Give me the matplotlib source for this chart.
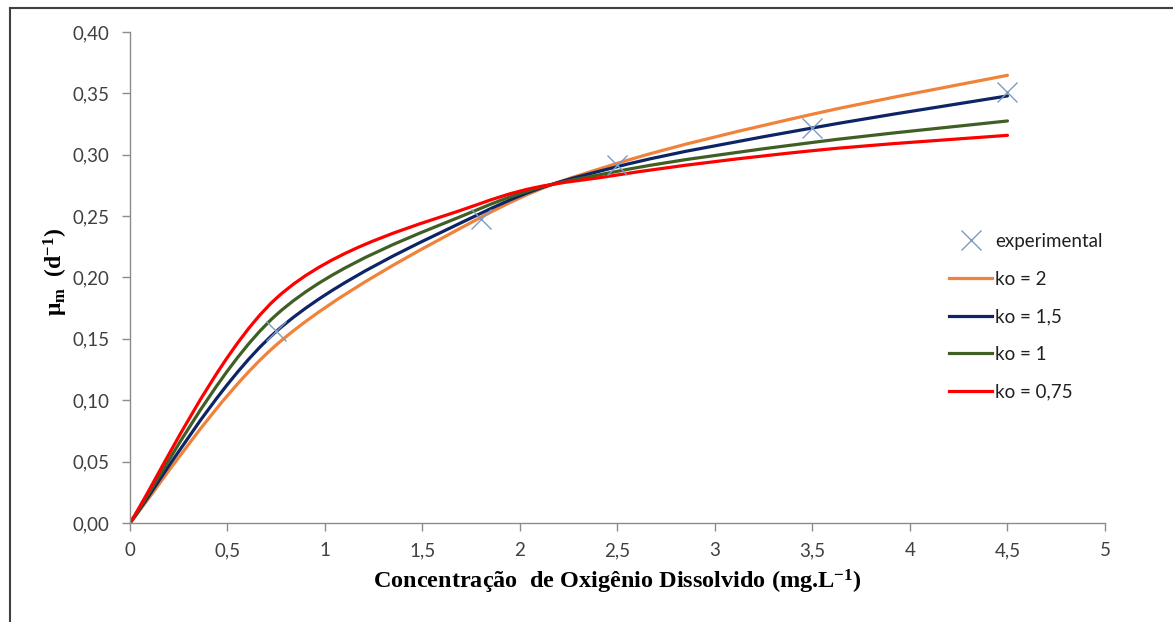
import matplotlib
matplotlib.use("Agg")
import matplotlib.pyplot as plt
from matplotlib.lines import Line2D
from matplotlib.path import Path
from matplotlib.patches import PathPatch

# values (model computed at the experimental points)
conc = [0, 0.75, 1.8, 2.5, 3.5, 4.5]
ko_2 = [0, 0.145, 0.249, 0.293, 0.333, 0.3647]
ko_15 = [0, 0.156, 0.2523, 0.2903, 0.3218, 0.3479]
ko_1 = [0, 0.1695, 0.2564, 0.2865, 0.310, 0.3275]
ko_075 = [0, 0.183, 0.2604, 0.2835, 0.3033, 0.3158]

exp_x = [0.75, 1.8, 2.5, 3.5, 4.5]
exp_y = [0.156, 0.248, 0.2915, 0.3215, 0.3514]

xticks = [0, 0.5, 1, 1.5, 2, 2.5, 3, 3.5, 4, 4.5, 5]
xtick_labels = ["0", "0,5", "1", "1,5", "2", "2,5", "3", "3,5", "4", "4,5", "5"]
yticks = [0, 0.05, 0.10, 0.15, 0.20, 0.25, 0.30, 0.35, 0.40]
ytick_labels = ["0,00", "0,05", "0,10", "0,15", "0,20", "0,25", "0,30", "0,35", "0,40"]


def smooth_path(xs, ys):
    # excel style "smoothed line": bezier segments through the points
    pts = list(zip(xs, ys))
    n = len(pts)
    verts = [pts[0]]
    codes = [Path.MOVETO]
    for i in range(n - 1):
        p0 = pts[i - 1] if i > 0 else pts[i]
        p1 = pts[i]
        p2 = pts[i + 1]
        p3 = pts[i + 2] if i + 2 < n else pts[i + 1]
        c1 = (p1[0] + (p2[0] - p0[0]) / 6, p1[1] + (p2[1] - p0[1]) / 6)
        c2 = (p2[0] - (p3[0] - p1[0]) / 6, p2[1] - (p3[1] - p1[1]) / 6)
        verts += [c1, c2, p2]
        codes += [Path.CURVE4] * 3
    return Path(verts, codes)


plt.rcParams["font.family"] = ["Lato", "DejaVu Sans"]
plt.rcParams["mathtext.fontset"] = "custom"
plt.rcParams["mathtext.rm"] = "Liberation Serif:bold"
plt.rcParams["mathtext.it"] = "Liberation Serif:bold"
plt.rcParams["mathtext.bf"] = "Liberation Serif:bold"

fig = plt.figure(figsize=(11.73, 6.22), dpi=100)
ax = fig.add_axes([0.1108, 0.1592, 0.8312, 0.7894])

series = [("ko = 2", ko_2, "#f0823a"),
          ("ko = 1,5", ko_15, "#0d2566"),
          ("ko = 1", ko_1, "#3f5f25"),
          ("ko = 0,75", ko_075, "#ff0000")]

handles = []
h = ax.plot(exp_x, exp_y, linestyle="none", marker="x", markersize=14,
            markeredgewidth=1.0, color="#7f9cc0", label="experimental", zorder=5)
handles.append(h[0])
for name, vals, col in series:
    ax.add_patch(PathPatch(smooth_path(conc, vals), fill=False, edgecolor=col,
                           lw=2.3, capstyle="round", joinstyle="round"))
    handles.append(Line2D([], [], color=col, lw=2.3, label=name))

ax.set_xlim(0, 5)
ax.set_ylim(0, 0.40)
ax.set_xticks(xticks)
ax.set_xticklabels(xtick_labels)
ax.set_yticks(yticks)
ax.set_yticklabels(ytick_labels)

for s in ["top", "right"]:
    ax.spines[s].set_visible(False)
for s in ["left", "bottom"]:
    ax.spines[s].set_color("#8c8c8c")
    ax.spines[s].set_linewidth(1.0)
ax.tick_params(axis="both", direction="out", length=6, width=1.0,
               color="#8c8c8c", labelcolor="#404040", labelsize=13.5)
ax.tick_params(axis="y", pad=9)
ax.tick_params(axis="x", pad=8)

fig.text(0.526, 0.064, "Concentração  de Oxigênio Dissolvido (mg.L$^{-1}$)",
         family="Liberation Serif", weight="bold", fontsize=17.5,
         ha="center", va="center")
fig.text(0.048, 0.563, "μ$_{\\mathrm{m}}$  (d$^{-1}$)",
         family="Liberation Serif", weight="bold", fontsize=17,
         rotation=90, ha="center", va="center")

ax.legend(handles=handles, loc="upper left", bbox_to_anchor=(0.823, 0.625),
          frameon=False, fontsize=13.5, handlelength=2.3, handletextpad=0.15,
          labelspacing=1.1, labelcolor="#202020")

# page frame around the chart
fig.add_artist(Line2D([0.0085, 1.0], [0.987, 0.987], transform=fig.transFigure,
                      color="#404040", lw=1.5))
fig.add_artist(Line2D([0.0085, 0.0085], [0.0, 0.987], transform=fig.transFigure,
                      color="#404040", lw=1.5))

fig.savefig("out.png", dpi=100)
